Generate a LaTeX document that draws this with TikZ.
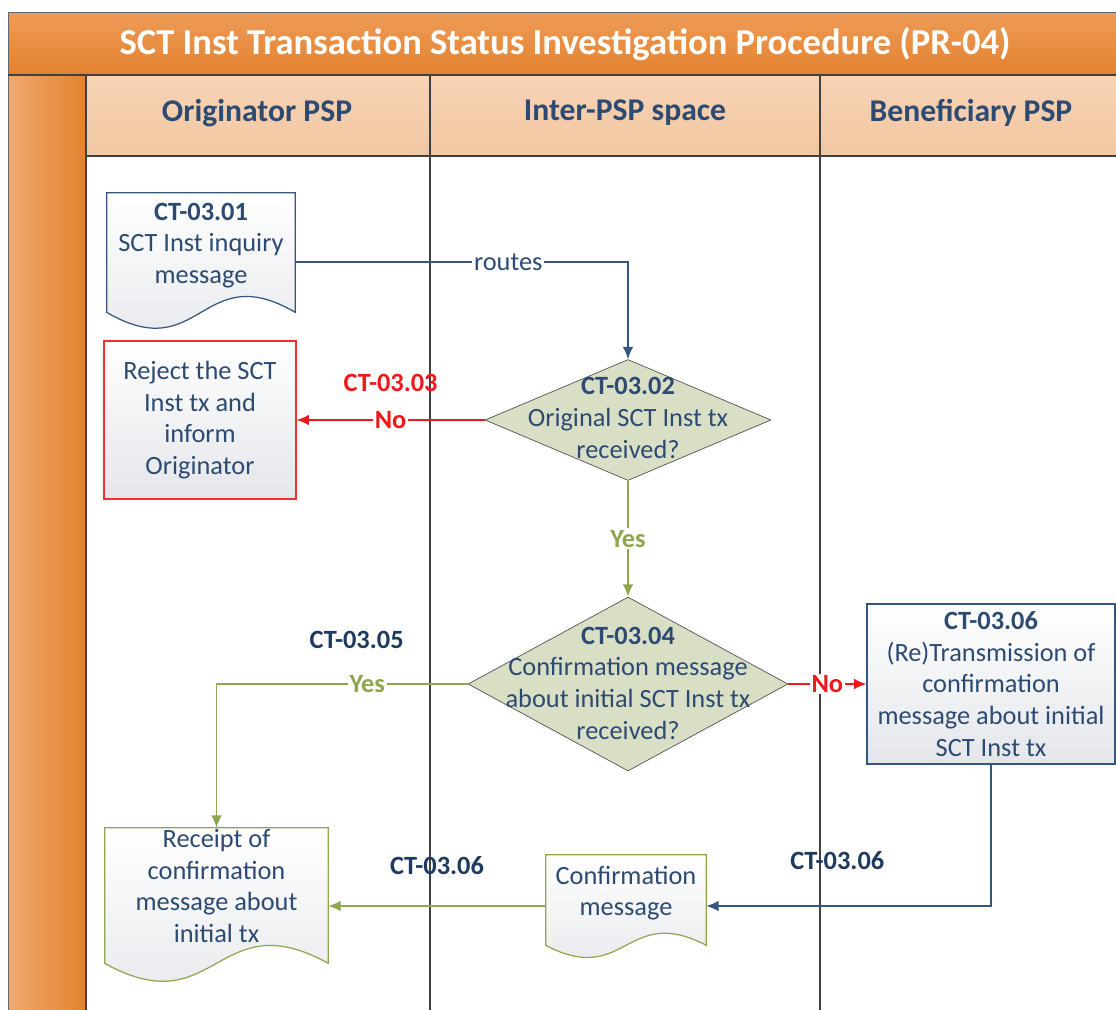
\documentclass[tikz,border=0pt]{standalone}
\usepackage{fontspec}
\setmainfont{Carlito}
\usetikzlibrary{arrows.meta, shapes.geometric, calc, backgrounds}

\definecolor{txtblue}{HTML}{2C4A72}
\definecolor{lblblue}{HTML}{1F3A60}
\definecolor{lineblue}{HTML}{34557F}
\definecolor{olive}{HTML}{8FA54E}
\definecolor{redline}{HTML}{F01818}
\definecolor{dfill}{HTML}{D9DFC5}
\definecolor{orgtop}{HTML}{EE9B57}
\definecolor{orgbot}{HTML}{E3822F}
\definecolor{hdrtop}{HTML}{F6D3B5}
\definecolor{hdrbot}{HTML}{F2C7A2}
\definecolor{lane}{HTML}{404040}
\definecolor{docgray}{HTML}{E4E6EA}

% document symbol: node, border colour, side extension, wave height
\newcommand{\docshape}[4]{%
  \draw[#2, line width=0.7pt, top color=white, bottom color=docgray]
    (#1.north west) -- (#1.north east) -- ($(#1.south east)+(0,#3)$)
    .. controls ($(#1.south)+(0,#3-#4)$) and ($(#1.south)+(0,#3+#4)$) .. ($(#1.south west)+(0,#3)$) -- cycle;}

\begin{document}
\begin{tikzpicture} [x=0.02cm, y=-0.02cm, align=center, >={Latex[length=7pt, width=6pt]},
  txt/.style={font=\fontsize{15}{18}\selectfont, text=txtblue},
  box/.style={txt, rectangle, line width=0.7pt, top color=white, bottom color=docgray},
  doc/.style={txt, rectangle, inner sep=0pt},
  dec/.style={diamond, draw=lane!90, fill=dfill, inner sep=0pt},
  hdr/.style={font=\fontsize{18}{21}\selectfont\bfseries, text=txtblue},
  lbl/.style={fill=white, inner sep=1pt, font=\fontsize{15}{17}\selectfont\bfseries},
  ctlbl/.style={font=\fontsize{15}{17}\selectfont\bfseries, text=lblblue},
  bluearr/.style={->, draw=lineblue, line width=0.8pt},
  greenarr/.style={->, draw=olive, line width=0.8pt},
  redarr/.style={->, draw=redline, line width=0.8pt}]
\useasboundingbox (0,0) rectangle (1116,1009);
\begin{scope}[on background layer]
\fill[white] (0,0) rectangle (1116,1009);
\end{scope}

% pool and lanes
\shade[top color=orgtop, bottom color=orgbot] (8,12) rectangle (1120,75);
\shade[left color=orgtop!85!white, right color=orgbot] (8,75) rectangle (86,1012);
\shade[top color=hdrtop, bottom color=hdrbot] (86,75) rectangle (1120,156);
\draw[lane!80, line width=0.5pt] (8,1012) -- (8,12) -- (1120,12);
\draw[lane, line width=0.6pt] (8,75) -- (1120,75) (86,156) -- (1120,156)
  (86,75) -- (86,1012) (430,75) -- (430,1012) (820,75) -- (820,1012);

\path (565,44) node[font=\fontsize{20.8}{24}\selectfont\bfseries, text=white] (ttl) {SCT Inst Transaction Status Investigation Procedure (PR-04)}
      (257,113) node[hdr] (h1) {Originator PSP}
      (625,113) node[hdr] (h2) {Inter-PSP space}
      (971,113) node[hdr] (h3) {Beneficiary PSP};

% steps
\path (201,245.5) node[doc, minimum width=3.76cm, minimum height=2.1cm] (d1) {{\bfseries CT-03.01}\\SCT Inst inquiry\\message}
      (200,420) node[box, draw=redline!90, minimum width=3.84cm, minimum height=3.16cm] (rej) {Reject the SCT\\Inst tx and\\inform\\Originator}
      (628,420) node[dec, minimum width=5.72cm, minimum height=2.42cm] (q1) {}
      (628,418) node[txt] (q1t) {{\bfseries CT-03.02}\\Original SCT Inst tx\\received?}
      (628,684) node[dec, minimum width=6.4cm, minimum height=3.48cm] (q2) {}
      (628,683) node[txt] (q2t) {{\bfseries CT-03.04}\\Confirmation message\\about initial SCT Inst tx\\received?}
      (991,684) node[box, draw=lineblue, minimum width=4.96cm, minimum height=3.2cm, inner sep=0pt] (b6) {{\bfseries CT-03.06}\\(Re)Transmission of\\confirmation\\message about initial\\SCT Inst tx}
      (216.5,886) node[doc, minimum width=4.46cm, minimum height=2.32cm] (d3) {Receipt of\\confirmation\\message about\\initial tx}
      (626,893) node[doc, minimum width=3.2cm, minimum height=1.52cm] (d2) {Confirmation\\message};

\begin{scope}[on background layer]
\docshape{d1}{lineblue}{14}{55}
\docshape{d3}{olive}{19}{62}
\docshape{d2}{olive}{14}{42}
\end{scope}

% flows
\draw[bluearr] ($(d1.east)+(0,16.5)$) -| node[pos=0.32, fill=white, inner sep=1pt, txt]{routes} (q1.north);
\draw[redarr] (q1.west) -- node[lbl, text=redline]{No} node[ctlbl, text=redline, yshift=21pt]{CT-03.03} (rej.east);
\draw[greenarr] (q1.south) -- node[lbl, text=olive]{Yes} (q2.north);
\draw[redarr] (q2.east) -- node[lbl, text=redline]{No} (b6.west);
\draw[greenarr] (q2.west) -| node[pos=0.2, lbl, text=olive]{Yes} node[pos=0.2, ctlbl, xshift=-6pt, yshift=25pt]{CT-03.05} (d3.north);
\draw[bluearr] (b6.south) |- node[pos=0.77, ctlbl, yshift=26pt]{CT-03.06} ($(d2.east)+(0,13)$);
\draw[greenarr] ($(d2.west)+(0,13)$) -- node[ctlbl, yshift=23pt]{CT-03.06} ($(d3.east)+(0,20)$);
\end{tikzpicture}
\end{document}
